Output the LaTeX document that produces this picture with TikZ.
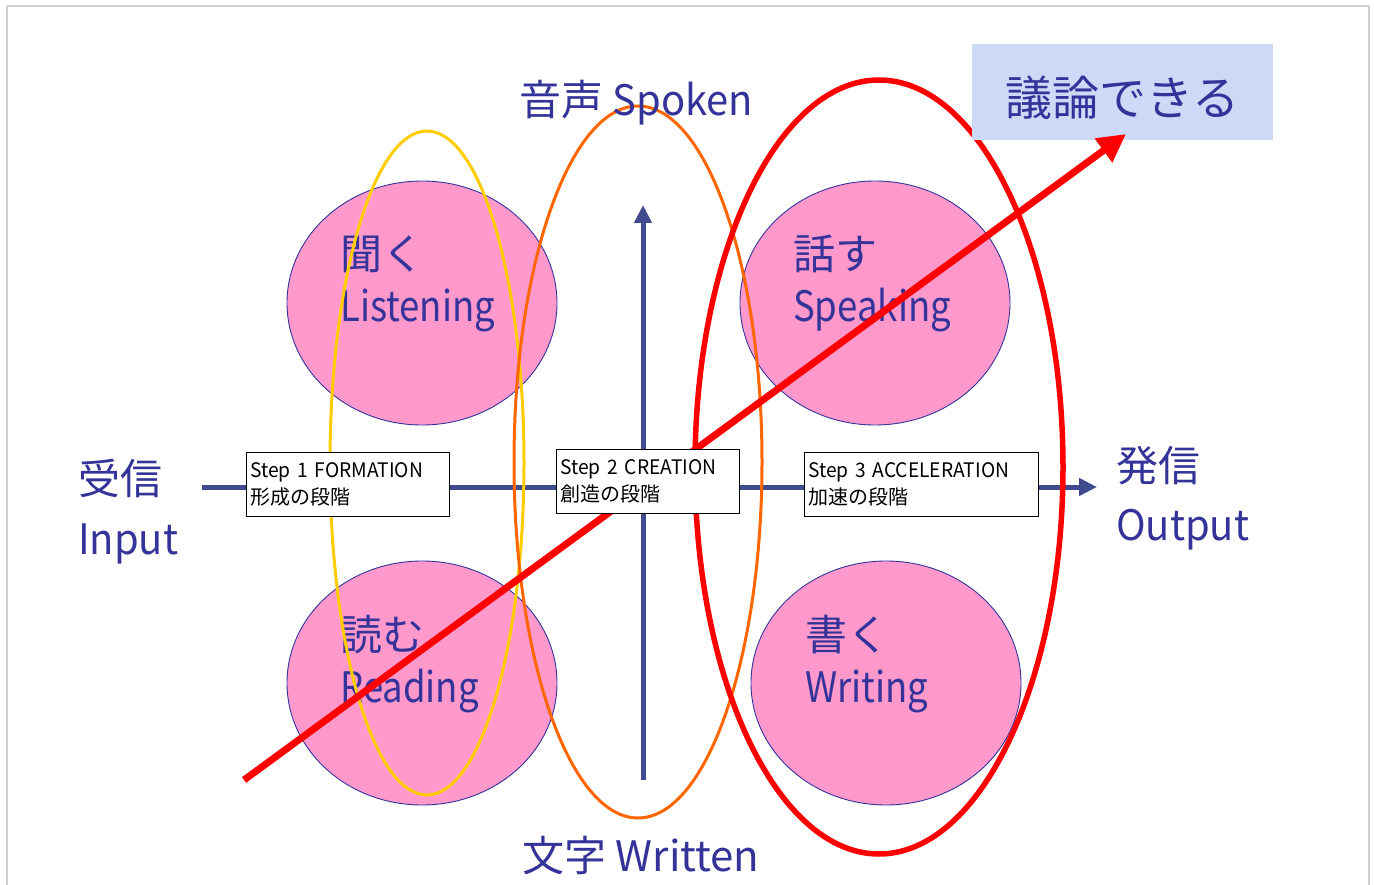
\documentclass[tikz,border=0pt]{standalone}
\usepackage{fontspec}
\setmainfont{Noto Sans CJK JP}
\newfontfamily\latn[FakeStretch=0.87]{Noto Sans CJK JP}
\newfontfamily\latm[FakeStretch=0.95]{Noto Sans CJK JP}
\newfontfamily\latst[FakeStretch=0.96]{Noto Sans CJK JP}
\usetikzlibrary{arrows.meta}
\definecolor{navy}{HTML}{333399}
\definecolor{axisc}{HTML}{404A8F}
\definecolor{pinkc}{HTML}{FF99CC}
\definecolor{yel}{HTML}{FFCC00}
\definecolor{org}{HTML}{FF6600}
\definecolor{lblue}{HTML}{CCDAF8}
\definecolor{framec}{HTML}{D0D0D0}
\begin{document}
\begin{tikzpicture}[x=1pt,y=-1pt,
  bigtxt/.style={text=navy, font=\fontsize{42}{50}\selectfont, inner sep=0pt, anchor=base west},
  stepbox/.style={draw=black, line width=0.9pt, fill=white, align=left,
    font=\fontsize{20}{27}\selectfont, anchor=north west, inner xsep=4pt, inner ysep=0pt, minimum height=64pt},
  pinkdisk/.style={fill=pinkc, draw=navy, line width=0.9pt},
  axisline/.style={draw=axisc, line width=5pt, -{Triangle[length=18pt,width=17pt]}},
  ring/.style={line width=3pt}
]
\useasboundingbox (0,0) rectangle (1374,885);
% frame
\draw[framec, line width=2pt] (7,885) -- (7,6) -- (1369,6) -- (1369,885);

% axes
\coordinate (inL) at (202,487);
\coordinate (outR) at (1097,487);
\coordinate (wB) at (643,780);
\coordinate (sT) at (643,205);
\draw[axisline] (inL) -- (outR);
\draw[axisline] (wB) -- (sT);

% pink disks
\draw[pinkdisk] (422,303) ellipse [x radius=135, y radius=122];
\draw[pinkdisk] (875,303) ellipse [x radius=135, y radius=122];
\draw[pinkdisk] (422,683) ellipse [x radius=135, y radius=122];
\draw[pinkdisk] (886,683) ellipse [x radius=135, y radius=122];

\node[bigtxt] (listenJ) at (340,270) {聞く};
\node[bigtxt] (listenE) at (340,322) {\latn Listening};
\node[bigtxt] (speakJ) at (793,270) {話す};
\node[bigtxt] (speakE) at (793,322) {\latn Speaking};
\node[bigtxt] (readJ) at (340,650) {読む};
\node[bigtxt] (readE) at (340,702) {\latn Reading};
\node[bigtxt] (writeJ) at (805,650) {書く};
\node[bigtxt] (writeE) at (805,702) {\latn Writing};

% rings
\draw[yel, ring] (427,463) ellipse [x radius=97, y radius=332];
\draw[org, ring] (638,462) ellipse [x radius=124, y radius=356];
\draw[red, line width=5.5pt] (879,467) ellipse [x radius=184, y radius=387];

% goal box
\node[fill=lblue, minimum width=301pt, minimum height=96pt, inner sep=0pt, anchor=north west] (goal) at (972,44) {};
\node[text=navy, font=\fontsize{47}{54}\selectfont, inner sep=0pt] (goaltxt) at ([yshift=-6pt]goal.center) {議論できる};

% red arrow
\coordinate (rS) at (244,780);
\coordinate (rE) at (1126,134);
\draw[red, line width=7pt, -{Triangle[length=28pt,width=28pt]}] (rS) -- (rE);

% step boxes
\node[stepbox, text width=195pt] (s1) at (246,452) {{\latst Step 1 FORMATION}\\形成の段階};
\node[stepbox, text width=175pt] (s2) at (556,449) {{\latst Step 2 CREATION}\\創造の段階};
\node[stepbox, text width=226pt] (s3) at (804,452) {{\latst Step 3 ACCELERATION}\\加速の段階};

% labels
\node[bigtxt, anchor=base] (spoken) at (636,116) {音声 {\latm Spoken}};
\node[bigtxt, anchor=base] (written) at (641,871) {文字 Written};
\node[bigtxt] (inJ) at (78,494) {受信};
\node[bigtxt] (inE) at (78,554) {\latm Input};
\node[bigtxt] (outJ) at (1116,481) {発信};
\node[bigtxt] (outE) at (1116,540) {\latm Output};
\end{tikzpicture}
\end{document}
